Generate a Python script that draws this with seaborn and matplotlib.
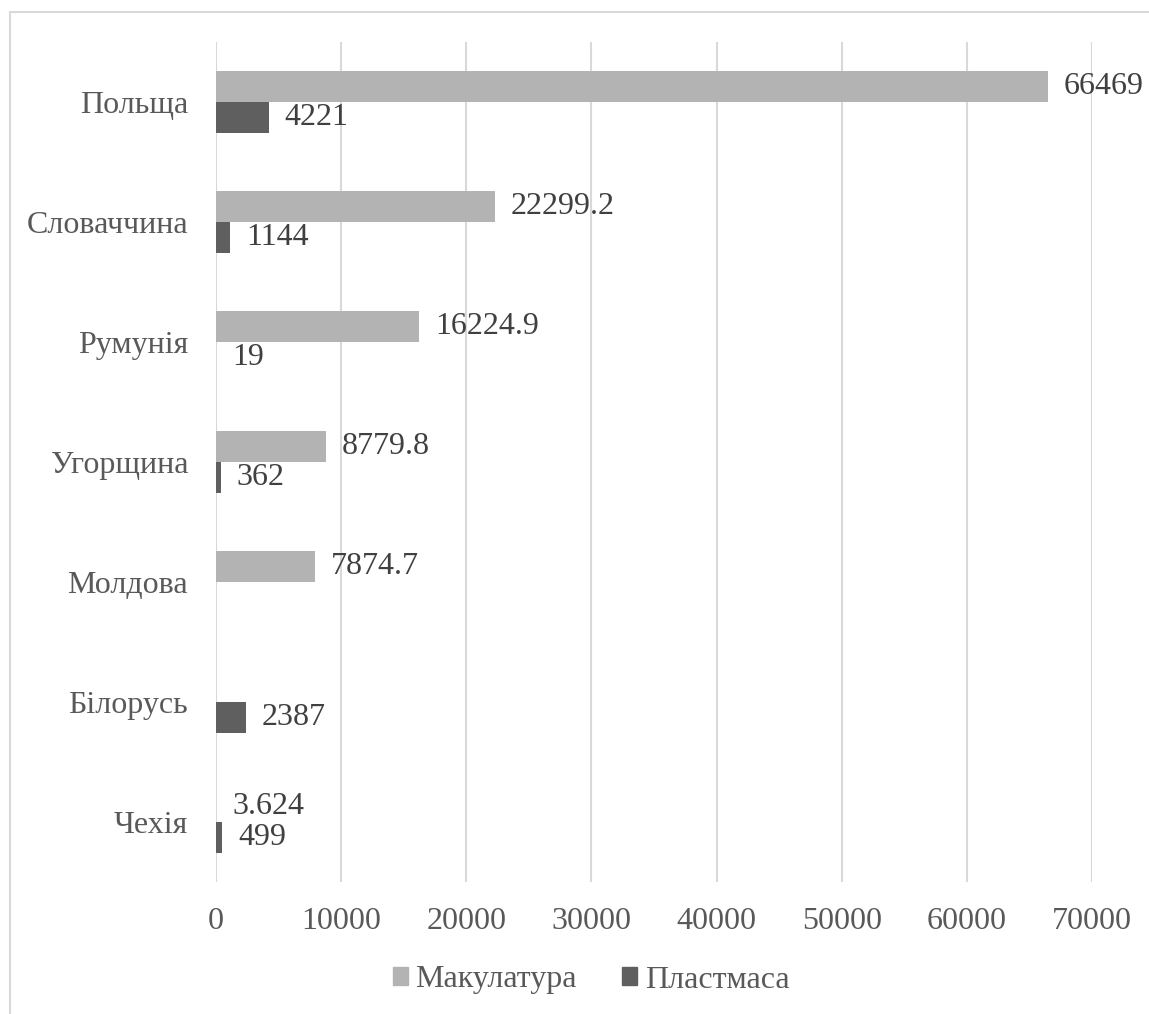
import numpy as np
import pandas as pd
import matplotlib
matplotlib.use("Agg")
import matplotlib.pyplot as plt
import matplotlib.patches as mpatches
import seaborn as sns

countries = ["Польща", "Словаччина", "Румунія", "Угорщина", "Молдова", "Білорусь", "Чехія"]
paper = [66469, 22299.2, 16224.9, 8779.8, 7874.7, np.nan, 3.624]
plastic = [4221, 1144, 19, 362, np.nan, 2387, 499]
series_names = ["Макулатура", "Пластмаса"]
x_ticks = [0, 10000, 20000, 30000, 40000, 50000, 60000, 70000]

colors = ["#b3b3b3", "#5f5f5f"]

df = pd.DataFrame({
    "country": countries * 2,
    "value": paper + plastic,
    "series": [series_names[0]] * len(countries) + [series_names[1]] * len(countries),
})

sns.set_theme(style="white")
plt.rcParams["font.family"] = ["Liberation Serif", "DejaVu Serif"]

fig = plt.figure(figsize=(11.49, 10.14), dpi=100)
ax = fig.add_axes([216 / 1149, 1 - 882 / 1014, (1092 - 216) / 1149, (882 - 42) / 1014])

sns.barplot(data=df, x="value", y="country", hue="series", order=countries,
            hue_order=series_names, palette=colors, orient="h", width=0.516,
            saturation=1, errorbar=None, edgecolor="none", linewidth=0,
            legend=False, ax=ax)

for cont in ax.containers:
    ax.bar_label(cont, fmt="{:g}", padding=11.5, fontsize=23, color="#404040")

ax.set_xlim(0, 70000)
ax.set_xticks(x_ticks)
ax.set_xticklabels([str(t) for t in x_ticks])
ax.set_ylim(len(countries) - 0.5, -0.5)
ax.grid(axis="x", color="#d9d9d9", linewidth=1.5)
ax.grid(axis="y", visible=False)
ax.set_axisbelow(True)
for s in ax.spines.values():
    s.set_visible(False)
ax.tick_params(axis="both", length=0, labelsize=23, labelcolor="#595959")
ax.tick_params(axis="y", pad=20)
ax.tick_params(axis="x", pad=18)
ax.set_xlabel("")
ax.set_ylabel("")

handles = [mpatches.Patch(color=c, label=n) for c, n in zip(colors, series_names)]
fig.legend(handles=handles, loc="center", bbox_to_anchor=(591 / 1149, 1 - 980 / 1014),
           ncol=2, frameon=False, fontsize=23, labelcolor="#595959",
           handlelength=0.47, handleheight=0.47, handletextpad=0.25, columnspacing=1.4)

fig.patches.append(mpatches.Rectangle((10 / 1149, -0.1), 1.2, 1 - 12 / 1014 + 0.1,
                                      transform=fig.transFigure, fill=False,
                                      edgecolor="#d9d9d9", linewidth=1.5))

fig.savefig("out.png", dpi=100, facecolor="white")
